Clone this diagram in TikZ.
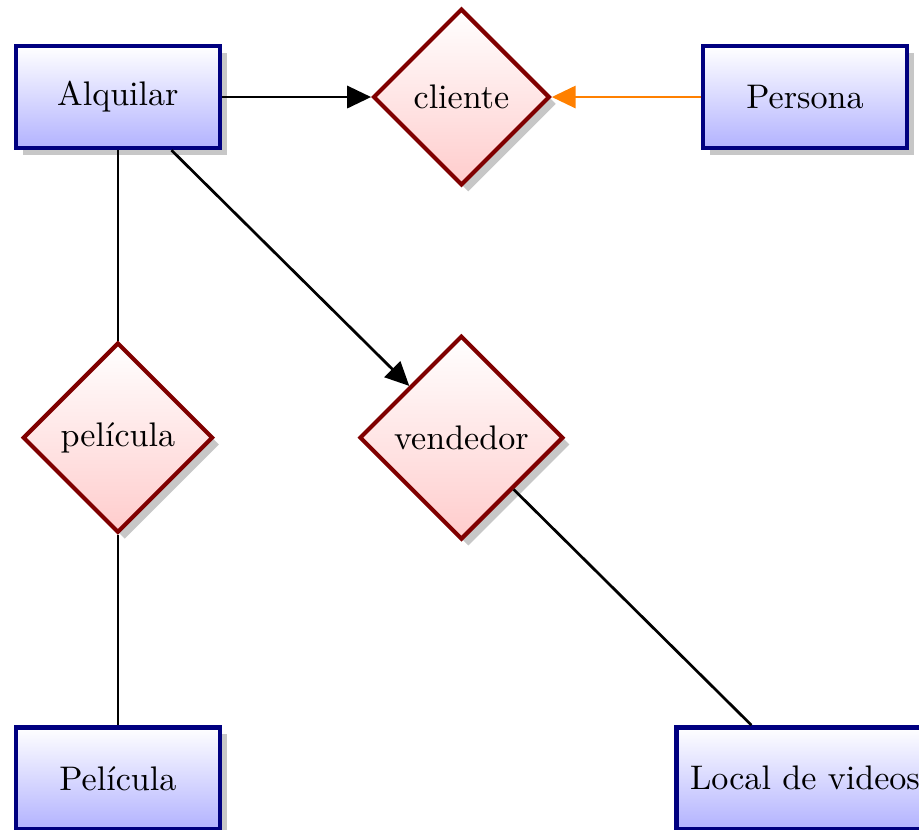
\documentclass[tikz,border=0pt]{standalone}
\usetikzlibrary{positioning,shapes,shadows,arrows.meta}

\begin{document}
\begin{tikzpicture}[
  node distance=3.51cm and 3.54cm,
  on grid,
  entity/.style={draw=blue!50!black, line width=1.3pt, rectangle,
    top color=white, bottom color=blue!30,
    minimum width=2.1cm, minimum height=1.05cm, inner sep=4pt,
    drop shadow={shadow xshift=2pt, shadow yshift=-2pt, fill=black!22, opacity=1}},
  relation/.style={draw=red!50!black, very thick, diamond, aspect=1,
    top color=white, bottom color=red!20,
    minimum size=1.82cm, inner sep=3.3pt,
    drop shadow={shadow xshift=2pt, shadow yshift=-2pt, fill=black!22, opacity=1}},
  link/.style={thick},
  arr/.style={thick, -{Triangle[length=7pt,width=6.5pt]}}
]
\useasboundingbox (-1.215,1.0) rectangle (8.255,-7.55);

\node[entity] (alquilar) {Alquilar};
\node[relation,right=of alquilar] (cliente) {cliente};
\node[entity,right=of cliente] (persona) {Persona};

\node[relation,below=of alquilar] (pelicula) {película};
\node[relation,below=of cliente] (vendedor) {vendedor};

\node[entity,below=of pelicula] (peliculaent) {Película};
\node[entity,below right=of vendedor] (local) {Local de videos};

\path
% arrows
(alquilar) edge[arr] (cliente)
(persona) edge[arr, orange] (cliente)
(alquilar) edge[arr] (vendedor)

% plain lines
(alquilar) edge[link] (pelicula)
(pelicula) edge[link] (peliculaent)
(vendedor) edge[link] (local)
;

\end{tikzpicture}
\end{document}
